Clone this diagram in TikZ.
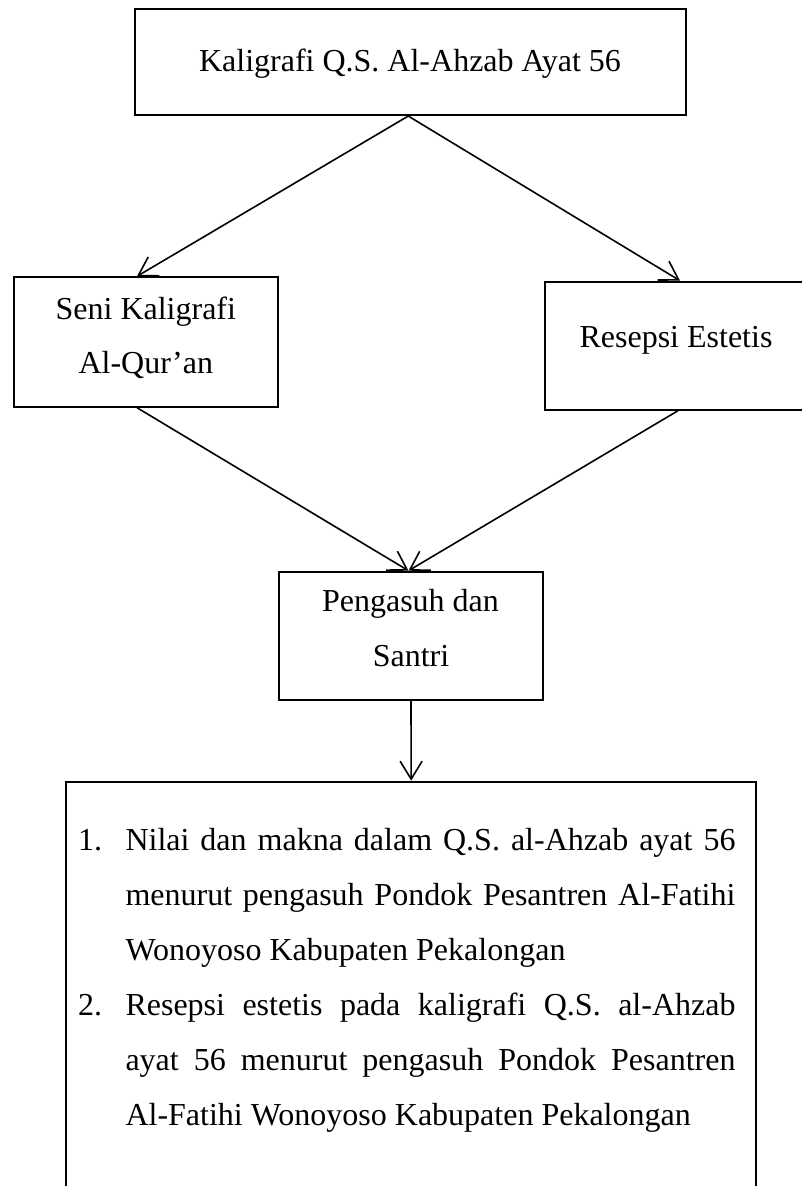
\documentclass[tikz,border=0pt]{standalone}
\usepackage{fontspec}
\setmainfont{Liberation Serif}
\usetikzlibrary{arrows.meta}
\begin{document}
\begin{tikzpicture}[x=1pt,y=-1pt,
  box/.style={draw, line width=2pt, inner sep=0pt},
  txt/.style={inner sep=0pt, anchor=base, font=\fontsize{32pt}{54pt}\selectfont},
  ltxt/.style={inner sep=0pt, anchor=base west, font=\fontsize{32pt}{54pt}\selectfont},
  conn/.style={line width=1.6pt, -{Straight Barb[length=18pt,width=22pt,line width=1.6pt]}}]
\useasboundingbox (0,0) rectangle (802,1186);
\clip (0,0) rectangle (802,1186);
% boxes
\node[box, minimum width=551.5pt, minimum height=105.7pt] (top) at (410.25,62.2) {};
\node[box, minimum width=264pt, minimum height=129.4pt] (left) at (146,342) {};
\node[box, minimum width=270pt, minimum height=128pt] (right) at (680,345.7) {};
\node[box, minimum width=264.4pt, minimum height=128.3pt] (mid) at (411,635.85) {};
\node[box, minimum width=689.7pt, minimum height=518.3pt] (bottom) at (411.15,1040.85) {};
% texts
\node[txt] (toptxt) at (410,71) {Kaligrafi Q.S. Al-Ahzab Ayat 56};
\node[txt] (l1) at (145.8,319) {Seni Kaligrafi};
\node[txt] (l2) at (145.8,373) {Al-Qur’an};
\node[txt] (r1) at (676,347) {Resepsi Estetis};
\node[txt] (m1) at (410.5,611.7) {Pengasuh dan};
\node[txt] (m2) at (411,666.7) {Santri};
% list
\node[ltxt] (n1) at (78,850) {1.};
\node[ltxt] (b1) at (125.3,850) {\makebox[610pt][s]{Nilai dan makna dalam Q.S. al-Ahzab ayat 56}};
\node[ltxt] (b2) at (125.3,905) {\makebox[610pt][s]{menurut pengasuh Pondok Pesantren Al-Fatihi}};
\node[ltxt] (b3) at (125.3,960) {Wonoyoso Kabupaten Pekalongan};
\node[ltxt] (n2) at (78,1015) {2.};
\node[ltxt] (b4) at (125.3,1015) {\makebox[610pt][s]{Resepsi estetis pada kaligrafi Q.S. al-Ahzab}};
\node[ltxt] (b5) at (125.3,1070) {\makebox[610pt][s]{ayat 56 menurut pengasuh Pondok Pesantren}};
\node[ltxt] (b6) at (125.3,1125) {Al-Fatihi Wonoyoso Kabupaten Pekalongan};
% connectors
\draw[conn] ([xshift=-2pt]top.south) -- ([xshift=-9pt]left.north);
\draw[conn] ([xshift=-2pt]top.south) -- (right.north);
\draw[conn] ([xshift=-9pt]left.south) -- ([xshift=-2.5pt]mid.north);
\draw[conn] ([xshift=-2pt]right.south) -- ([xshift=-2.5pt]mid.north);
\draw[conn] (mid.south) -- (bottom.north);
\end{tikzpicture}
\end{document}
